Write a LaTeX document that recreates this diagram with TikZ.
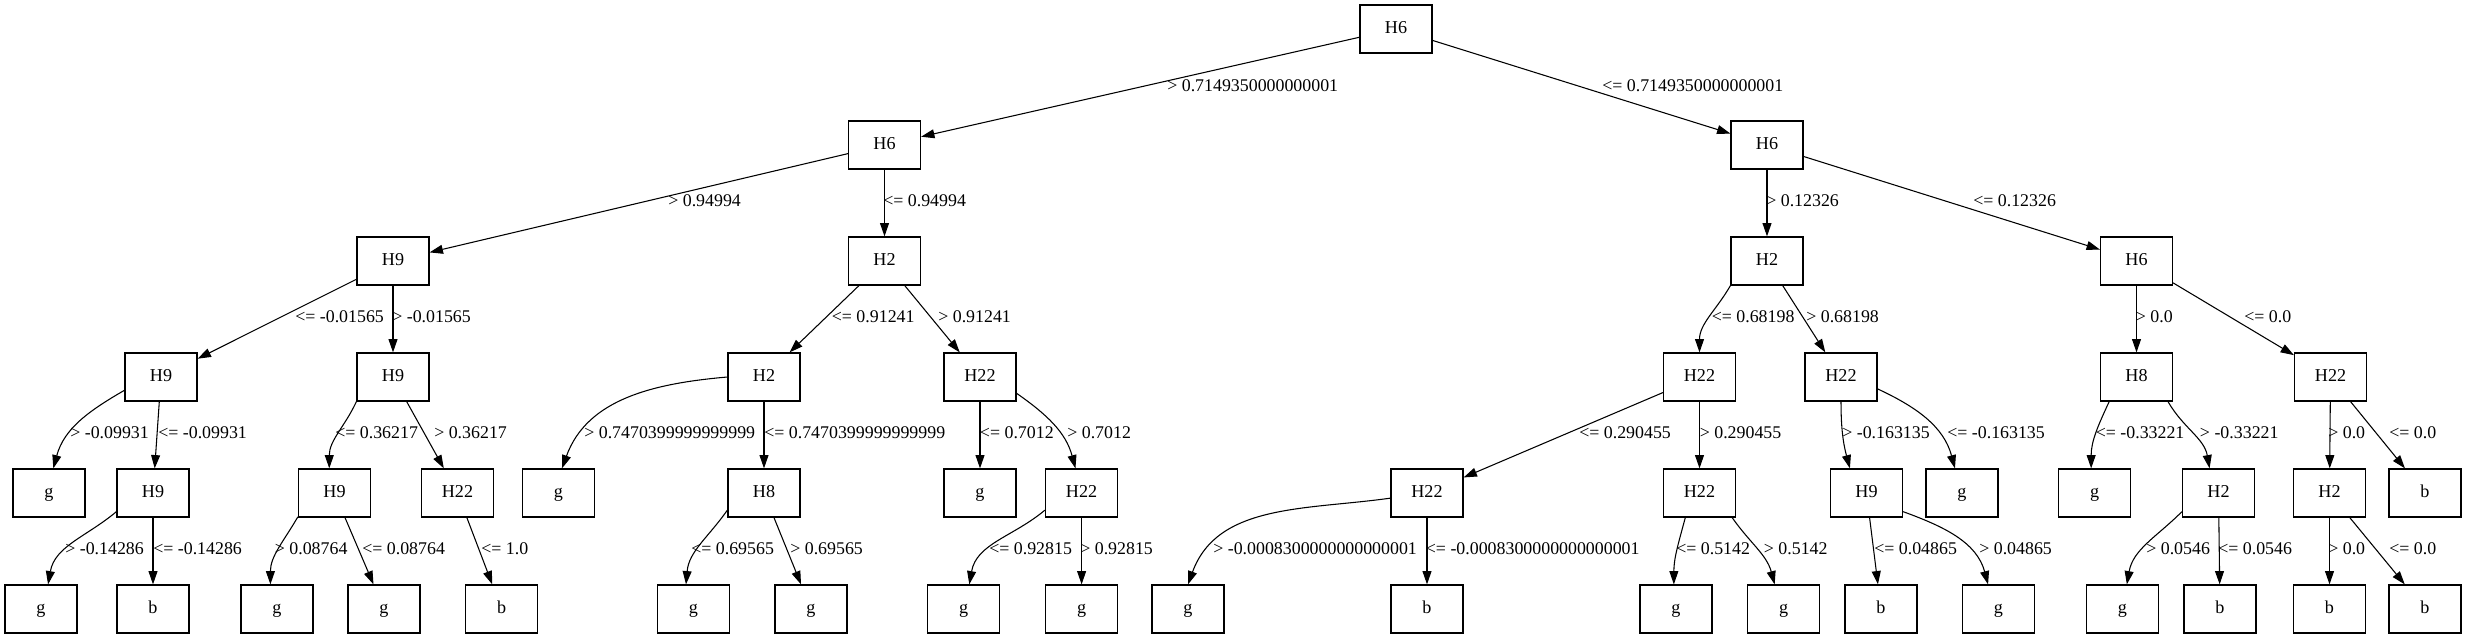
\documentclass[tikz,border=0pt]{standalone}
\usepackage{fontspec}
\setmainfont{Liberation Serif}
\usetikzlibrary{arrows.meta}
\tikzset{
  box/.style={draw, line width=0.9pt, minimum width=54pt, minimum height=36pt, inner sep=0pt,
    font=\fontsize{13.6}{16}\selectfont, text height=0.68em, text depth=0pt},
  lab/.style={anchor=west, inner sep=0pt, font=\fontsize{13.4}{16}\selectfont, text height=0.68em, text depth=0pt},
  edge/.style={line width=0.8pt, -{Triangle[length=10pt,width=6.7pt]}}
}
\begin{document}
\begin{tikzpicture}[x=0.75pt,y=-0.75pt]
\useasboundingbox (0,0) rectangle (2467,639);
% level 0
\node[box] (a0) at (1396,29) {H6};
% level 1
\node[box] (b1) at (884.5,145) {H6};
\node[box] (b2) at (1767,145) {H6};
% level 2
\node[box] (c1) at (393,261) {H9};
\node[box] (c2) at (884.5,261) {H2};
\node[box] (c3) at (1767,261) {H2};
\node[box] (c4) at (2136.5,261) {H6};
% level 3
\node[box] (d1) at (161,377) {H9};
\node[box] (d2) at (393,377) {H9};
\node[box] (d3) at (764,377) {H2};
\node[box] (d4) at (980,377) {H22};
\node[box] (d5) at (1699.5,377) {H22};
\node[box] (d6) at (1841,377) {H22};
\node[box] (d7) at (2136.5,377) {H8};
\node[box] (d8) at (2330.5,377) {H22};
% level 4
\node[box] (e1) at (49,493) {g};
\node[box] (e2) at (153,493) {H9};
\node[box] (e3) at (334.5,493) {H9};
\node[box] (e4) at (457.5,493) {H22};
\node[box] (e5) at (558.5,493) {g};
\node[box] (e6) at (764,493) {H8};
\node[box] (e7) at (980,493) {g};
\node[box] (e8) at (1081.6,493) {H22};
\node[box] (e9) at (1427,493) {H22};
\node[box] (e10) at (1699.5,493) {H22};
\node[box] (e11) at (1866.5,493) {H9};
\node[box] (e12) at (1962,493) {g};
\node[box] (e13) at (2094.6,493) {g};
\node[box] (e14) at (2218.5,493) {H2};
\node[box] (e15) at (2329.5,493) {H2};
\node[box] (e16) at (2425,493) {b};
% level 5
\node[box] (f1) at (41,609) {g};
\node[box] (f2) at (153,609) {b};
\node[box] (f3) at (277,609) {g};
\node[box] (f4) at (384,609) {g};
\node[box] (f5) at (501.6,609) {b};
\node[box] (f6) at (693.5,609) {g};
\node[box] (f7) at (811,609) {g};
\node[box] (f8) at (963.6,609) {g};
\node[box] (f9) at (1081.6,609) {g};
\node[box] (f10) at (1188,609) {g};
\node[box] (f11) at (1427,609) {b};
\node[box] (f12) at (1676,609) {g};
\node[box] (f13) at (1783.6,609) {g};
\node[box] (f14) at (1881,609) {b};
\node[box] (f15) at (1998.5,609) {g};
\node[box] (f16) at (2122.5,609) {g};
\node[box] (f17) at (2220,609) {b};
\node[box] (f18) at (2329.5,609) {b};
\node[box] (f19) at (2425,609) {b};
% edges level 0-1
\draw[edge] (a0) -- (b1);
\draw[edge] (a0) -- (b2);
% level 1-2
\draw[edge] (b1) -- (c1);
\draw[edge] (b1) -- (c2);
\draw[edge] (b2) -- (c3);
\draw[edge] (b2) -- (c4);
% level 2-3
\draw[edge] (c1) -- (d1);
\draw[edge] (c1) -- (d2);
\draw[edge] (c2) -- (d3);
\draw[edge] (c2) -- (d4);
\draw[edge] (c3.south west) to[out=240,in=90] (d5.north);
\draw[edge] (c3) -- (d6);
\draw[edge] (c4) -- (d7);
\draw[edge] (c4) -- (d8);
% level 3-4
\draw[edge] (d1.200) to[out=210,in=75] (e1.80);
\draw[edge] (d1) -- (e2);
\draw[edge] (d2.south west) to[out=245,in=90] (e3.102);
\draw[edge] (d2) -- (e4);
\draw[edge] (d3.west) to[out=185,in=70] (e5.82);
\draw[edge] (d3) -- (e6);
\draw[edge] (d4) -- (e7);
\draw[edge] (d4.336) to[out=-35,in=105] (e8.104);
\draw[edge] (d5) -- (e9);
\draw[edge] (d5) -- (e10);
\draw[edge] (d6.south) to[out=-90,in=105] (e11.124);
\draw[edge] (d6.342) to[out=-25,in=105] (e12.106);
\draw[edge] (d7.222) to[out=245,in=90] (e13.98);
\draw[edge] (d7.322) to[out=-60,in=100] (e14.110);
\draw[edge] (d8) -- (e15);
\draw[edge] (d8) -- (e16);
% level 4-5
\draw[edge] (e2.207) to[out=220,in=80] (f1.74);
\draw[edge] (e2) -- (f2);
\draw[edge] (e3.213) to[out=240,in=90] (f3.105);
\draw[edge] (e3) -- (f4);
\draw[edge] (e4) -- (f5);
\draw[edge] (e6.205) to[out=235,in=85] (f6.107);
\draw[edge] (e6) -- (f7);
\draw[edge] (e8.205) to[out=220,in=80] (f8.77);
\draw[edge] (e8) -- (f9);
\draw[edge] (e9.188) to[out=188,in=70] (f10.north);
\draw[edge] (e9) -- (f11);
\draw[edge] (e10.240) to[out=255,in=90] (f12.95);
\draw[edge] (e10.323) to[out=-55,in=105] (f13.110);
\draw[edge] (e11) -- (f14);
\draw[edge] (e11.333) to[out=-20,in=105] (f15.113);
\draw[edge] (e14.207) to[out=225,in=80] (f16.80);
\draw[edge] (e14) -- (f17);
\draw[edge] (e15) -- (f18);
\draw[edge] (e15) -- (f19);
% labels level 0-1
\node[lab] (l01) at (1167,87) {> 0.7149350000000001};
\node[lab] (l02) at (1602,87) {<= 0.7149350000000001};
% labels level 1-2
\node[lab] (l11) at (668,202) {> 0.94994};
\node[lab] (l12) at (883,202) {<= 0.94994};
\node[lab] (l13) at (1766,202) {> 0.12326};
\node[lab] (l14) at (1973,202) {<= 0.12326};
% labels level 2-3
\node[lab] (l21) at (295,318) {<= -0.01565};
\node[lab] (l22) at (392,318) {> -0.01565};
\node[lab] (l23) at (831.6,318) {<= 0.91241};
\node[lab] (l24) at (938,318) {> 0.91241};
\node[lab] (l25) at (1711.5,318) {<= 0.68198};
\node[lab] (l26) at (1806,318) {> 0.68198};
\node[lab] (l27) at (2135.6,318) {> 0.0};
\node[lab] (l28) at (2244,318) {<= 0.0};
% labels level 3-4
\node[lab] (l31) at (70,434) {> -0.09931};
\node[lab] (l32) at (158,434) {<= -0.09931};
\node[lab] (l33) at (335,434) {<= 0.36217};
\node[lab] (l34) at (434,434) {> 0.36217};
\node[lab] (l35) at (584,434) {> 0.7470399999999999};
\node[lab] (l36) at (764,434) {<= 0.7470399999999999};
\node[lab] (l37) at (979.7,434) {<= 0.7012};
\node[lab] (l38) at (1067,434) {> 0.7012};
\node[lab] (l39) at (1579,434) {<= 0.290455};
\node[lab] (l310) at (1699.5,434) {> 0.290455};
\node[lab] (l311) at (1842,434) {> -0.163135};
\node[lab] (l312) at (1947,434) {<= -0.163135};
\node[lab] (l313) at (2095.5,434) {<= -0.33221};
\node[lab] (l314) at (2199.7,434) {> -0.33221};
\node[lab] (l315) at (2328,434) {> 0.0};
\node[lab] (l316) at (2389,434) {<= 0.0};
% labels level 4-5
\node[lab] (l41) at (65,550) {> -0.14286};
\node[lab] (l42) at (153,550) {<= -0.14286};
\node[lab] (l43) at (274.6,550) {> 0.08764};
\node[lab] (l44) at (362,550) {<= 0.08764};
\node[lab] (l45) at (481,550) {<= 1.0};
\node[lab] (l46) at (691,550) {<= 0.69565};
\node[lab] (l47) at (790,550) {> 0.69565};
\node[lab] (l48) at (989,550) {<= 0.92815};
\node[lab] (l49) at (1080,550) {> 0.92815};
\node[lab] (l410) at (1213,550) {> -0.0008300000000000001};
\node[lab] (l411) at (1425.6,550) {<= -0.0008300000000000001};
\node[lab] (l412) at (1676,550) {<= 0.5142};
\node[lab] (l413) at (1763.6,550) {> 0.5142};
\node[lab] (l414) at (1874,550) {<= 0.04865};
\node[lab] (l415) at (1979,550) {> 0.04865};
\node[lab] (l416) at (2146,550) {> 0.0546};
\node[lab] (l417) at (2218,550) {<= 0.0546};
\node[lab] (l418) at (2328,550) {> 0.0};
\node[lab] (l419) at (2389,550) {<= 0.0};
\end{tikzpicture}
\end{document}
